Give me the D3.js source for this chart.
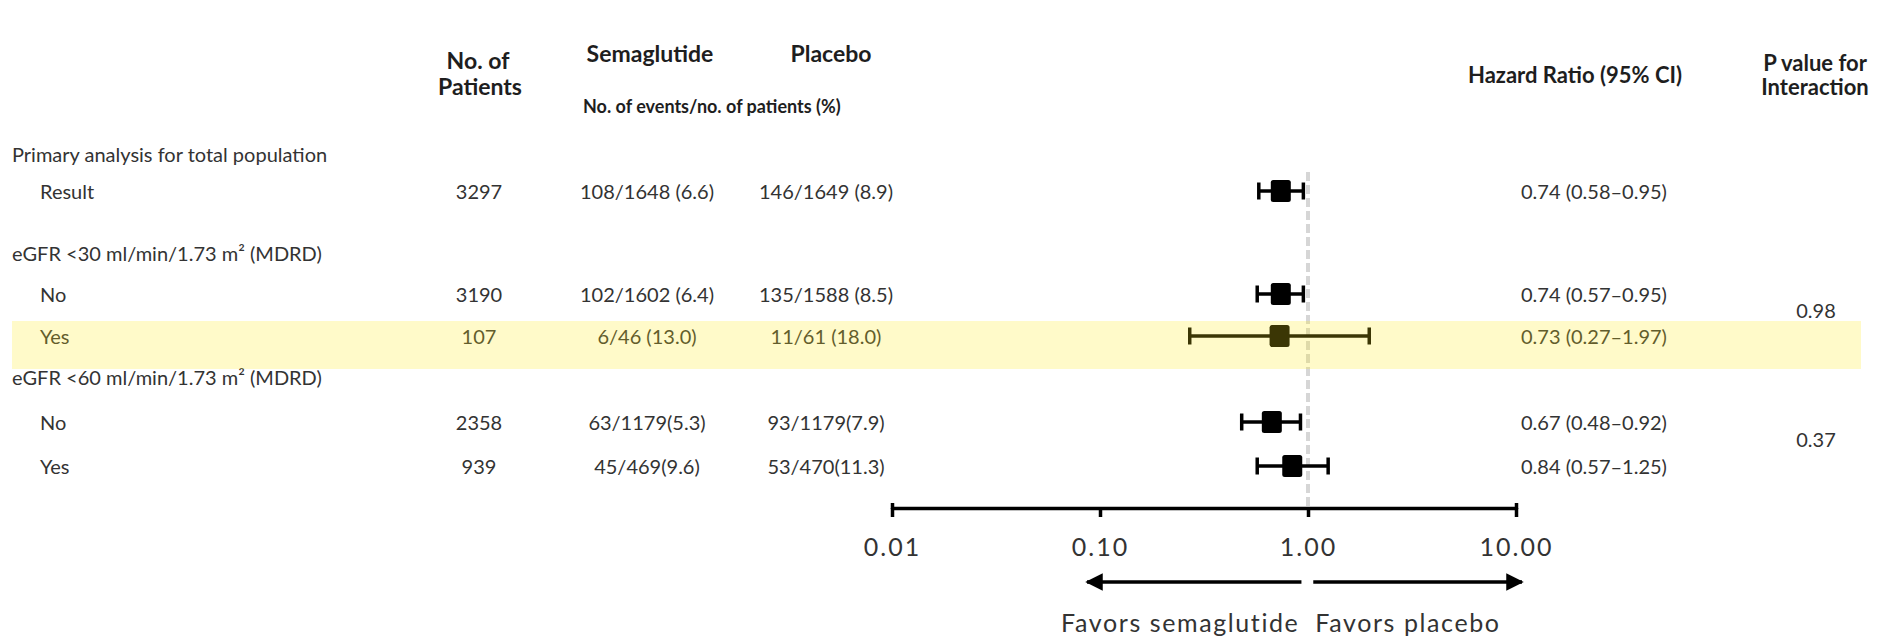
<!DOCTYPE html>
<html>
<head>
<meta charset="utf-8">
<script src="https://cdn.jsdelivr.net/npm/d3@7"></script>
<style>
  html, body { margin: 0; padding: 0; background: #fff; }
  svg { display: block; }
  .body { font-family: Lato, "Open Sans", sans-serif; font-size: 20px; fill: #333; }
  .head { font-family: Lato, "Open Sans", sans-serif; font-weight: 700; fill: #1e1e1e; }
</style>
</head>
<body>
<svg id="chart" width="1898" height="637"></svg>
<script>
// ---- data ----
const groupLabels = [
  "Primary analysis for total population",
  "eGFR <30 ml/min/1.73 m² (MDRD)",
  "eGFR <60 ml/min/1.73 m² (MDRD)"
];
const rowLabels = ["Result", "No", "Yes", "No", "Yes"];
const patients = [3297, 3190, 107, 2358, 939];
const semaText = ["108/1648 (6.6)", "102/1602 (6.4)", "6/46 (13.0)", "63/1179(5.3)", "45/469(9.6)"];
const placeboText = ["146/1649 (8.9)", "135/1588 (8.5)", "11/61 (18.0)", "93/1179(7.9)", "53/470(11.3)"];
const hr = [0.74, 0.74, 0.73, 0.67, 0.84];
const ciLow = [0.58, 0.57, 0.27, 0.48, 0.57];
const ciHigh = [0.95, 0.95, 1.97, 0.92, 1.25];
const pInteraction = ["0.98", "0.37"];
const pRows = [[1, 2], [3, 4]];
const highlightRow = 2;
const axisTicks = [0.01, 0.1, 1, 10];

// ---- layout ----
const groupY = [155, 254, 378];
const rowY = [192, 295, 337, 423, 467];
const col = { label: 12, sub: 40, patients: 479, sema: 647, placebo: 826, hr: 1521, p: 1816 };
const axisY = 508;

const svg = d3.select("#chart");
const x = d3.scaleLog().domain([0.01, 10]).range([892, 1516]);
const fmt = d3.format(".2f");

// column headers
const heads = [
  { t: "No. of", x: 478, y: 61, s: 23, a: "middle" },
  { t: "Patients", x: 480, y: 87, s: 23, a: "middle" },
  { t: "Semaglutide", x: 650, y: 54, s: 23, a: "middle" },
  { t: "Placebo", x: 831, y: 54, s: 23, a: "middle" },
  { t: "No. of events/no. of patients (%)", x: 583, y: 107, s: 18, a: "start" },
  { t: "Hazard Ratio (95% CI)", x: 1575, y: 75, s: 22, a: "middle" },
  { t: "P value for", x: 1815, y: 63, s: 22, a: "middle" },
  { t: "Interaction", x: 1815, y: 87, s: 22, a: "middle" }
];
svg.append("g").selectAll("text").data(heads).join("text")
  .attr("class", "head")
  .attr("x", d => d.x).attr("y", d => d.y)
  .attr("dy", "0.35em")
  .attr("text-anchor", d => d.a)
  .style("font-size", d => d.s + "px")
  .text(d => d.t);

// subgroup headings
svg.append("g").selectAll("text").data(groupLabels).join("text")
  .attr("class", "body")
  .attr("x", col.label).attr("y", (d, i) => groupY[i])
  .attr("dy", "0.35em")
  .text(d => d);

// table rows
const rows = svg.append("g").selectAll("g").data(rowLabels).join("g")
  .attr("transform", (d, i) => `translate(0,${rowY[i]})`);
rows.append("text").attr("class", "body").attr("x", col.sub).attr("dy", "0.35em").text(d => d);
rows.append("text").attr("class", "body").attr("x", col.patients).attr("dy", "0.35em")
  .attr("text-anchor", "middle").text((d, i) => patients[i]);
rows.append("text").attr("class", "body").attr("x", col.sema).attr("dy", "0.35em")
  .attr("text-anchor", "middle").text((d, i) => semaText[i]);
rows.append("text").attr("class", "body").attr("x", col.placebo).attr("dy", "0.35em")
  .attr("text-anchor", "middle").text((d, i) => placeboText[i]);
rows.append("text").attr("class", "body").attr("x", col.hr).attr("dy", "0.35em")
  .text((d, i) => `${fmt(hr[i])} (${fmt(ciLow[i])}–${fmt(ciHigh[i])})`);

// interaction p values, placed between their two rows
svg.append("g").selectAll("text").data(pInteraction).join("text")
  .attr("class", "body")
  .attr("x", col.p)
  .attr("y", (d, i) => (rowY[pRows[i][0]] + rowY[pRows[i][1]]) / 2 - 5)
  .attr("dy", "0.35em").attr("text-anchor", "middle")
  .text(d => d);

// line of no effect
svg.append("line")
  .attr("x1", x(1)).attr("x2", x(1))
  .attr("y1", 172).attr("y2", axisY)
  .attr("stroke", "#d6d6d6").attr("stroke-width", 4)
  .attr("stroke-dasharray", "9,4");

// confidence intervals and point estimates
const marks = svg.append("g").selectAll("g").data(hr).join("g")
  .attr("transform", (d, i) => `translate(0,${rowY[i] - 1})`);
marks.append("line")
  .attr("x1", (d, i) => x(ciLow[i])).attr("x2", (d, i) => x(ciHigh[i]))
  .attr("stroke", "#000").attr("stroke-width", 3.5);
marks.append("line")
  .attr("x1", (d, i) => x(ciLow[i])).attr("x2", (d, i) => x(ciLow[i]))
  .attr("y1", -8.5).attr("y2", 8.5)
  .attr("stroke", "#000").attr("stroke-width", 3.5);
marks.append("line")
  .attr("x1", (d, i) => x(ciHigh[i])).attr("x2", (d, i) => x(ciHigh[i]))
  .attr("y1", -8.5).attr("y2", 8.5)
  .attr("stroke", "#000").attr("stroke-width", 3.5);
marks.append("rect")
  .attr("x", d => x(d) - 10).attr("y", -11)
  .attr("width", 20).attr("height", 22)
  .attr("rx", 2.5)
  .attr("fill", "#000");

// log axis
const axis = d3.axisBottom(x)
  .tickValues(axisTicks)
  .tickFormat(fmt)
  .tickSize(9)
  .tickSizeOuter(0);
const gAxis = svg.append("g")
  .attr("transform", `translate(0,${axisY})`)
  .call(axis);
gAxis.select(".domain").attr("stroke", "#000").attr("stroke-width", 3.5).attr("stroke-linecap", "round");
gAxis.selectAll(".tick line").attr("stroke", "#000").attr("stroke-width", 3.5)
  .attr("y1", (d, i) => (i === 0 || i === axisTicks.length - 1) ? -5 : 0);
gAxis.selectAll(".tick text")
  .attr("y", 39).attr("dy", "0.35em")
  .attr("fill", "#333")
  .style("font-family", "Lato, 'Open Sans', sans-serif")
  .style("font-size", "25px")
  .style("letter-spacing", "2px");

// direction arrows
const defs = svg.append("defs");
defs.append("marker")
  .attr("id", "arrowHead")
  .attr("viewBox", "0 0 10 10")
  .attr("refX", 9).attr("refY", 5)
  .attr("markerWidth", 6).attr("markerHeight", 5)
  .attr("markerUnits", "strokeWidth")
  .attr("orient", "auto")
  .append("path").attr("d", "M0,0L10,5L0,10Z").attr("fill", "#000");
const arrowY = 582;
svg.append("line")
  .attr("x1", x(0.93)).attr("x2", x(0.1) - 13)
  .attr("y1", arrowY).attr("y2", arrowY)
  .attr("stroke", "#000").attr("stroke-width", 3.5)
  .attr("marker-end", "url(#arrowHead)");
svg.append("line")
  .attr("x1", x(1.06)).attr("x2", x(10) + 6)
  .attr("y1", arrowY).attr("y2", arrowY)
  .attr("stroke", "#000").attr("stroke-width", 3.5)
  .attr("marker-end", "url(#arrowHead)");

const favors = [
  { t: "Favors semaglutide", x: x(0.93) - 2, a: "end" },
  { t: "Favors placebo", x: x(1.06) + 2, a: "start" }
];
svg.append("g").selectAll("text").data(favors).join("text")
  .attr("x", d => d.x).attr("y", 632)
  .attr("text-anchor", d => d.a)
  .attr("fill", "#333")
  .style("font-family", "Lato, 'Open Sans', sans-serif")
  .style("font-size", "25px")
  .style("letter-spacing", "1.6px")
  .text(d => d.t);

// highlighted row, laid over the content as a translucent wash
svg.append("rect")
  .attr("x", 12).attr("width", 1849)
  .attr("y", rowY[highlightRow] - 16).attr("height", 48)
  .attr("fill", "rgb(255,235,22)")
  .attr("fill-opacity", 0.23);
</script>
</body>
</html>
